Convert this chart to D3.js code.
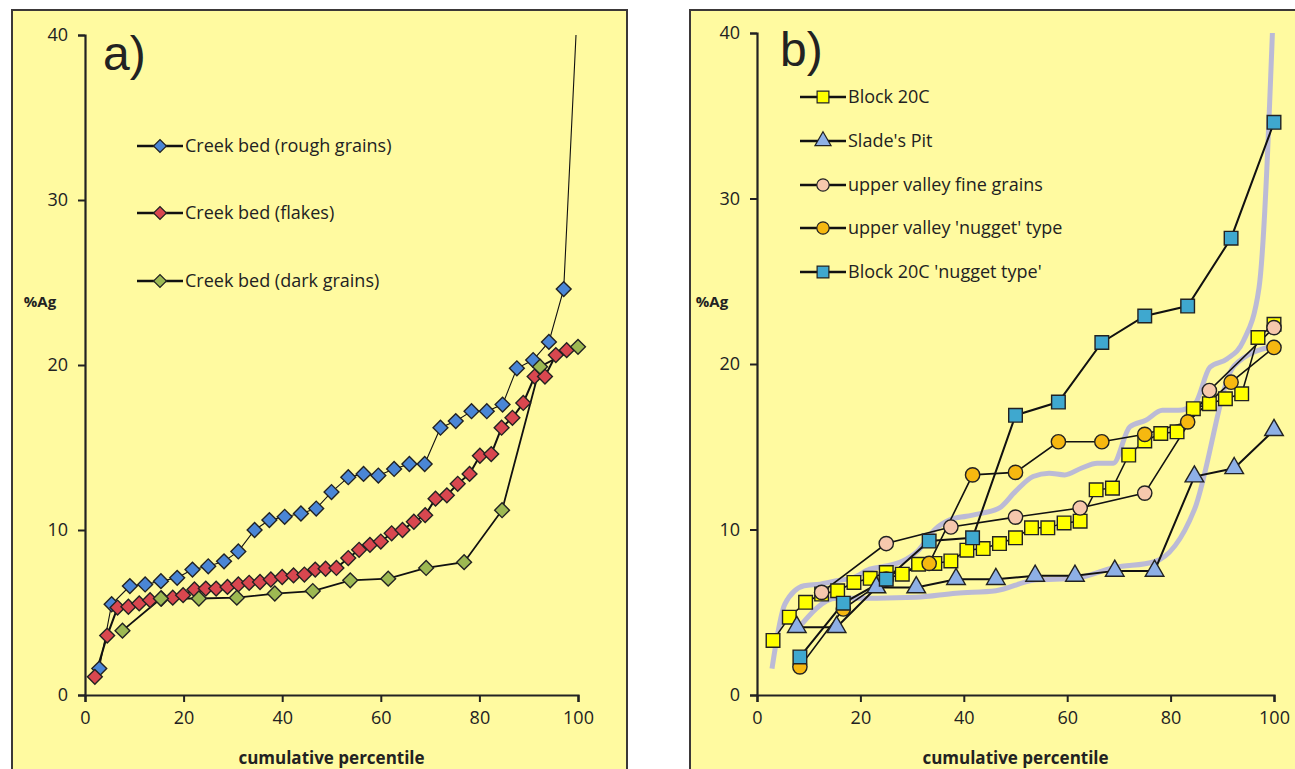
<!DOCTYPE html>
<html>
<head>
<meta charset="utf-8">
<script src="https://cdn.jsdelivr.net/npm/d3@7"></script>
<style>
  body { margin: 0; background: #fff; }
  text { font-family: "Open Sans", sans-serif; fill: #222; }
</style>
</head>
<body>
<div id="chart"></div>
<script>
// ---- data ----
// panel a)
var roughX = [2.9, 5.4, 9.1, 12.2, 15.4, 18.7, 21.8, 25.0, 28.2, 31.1, 34.4, 37.4, 40.5, 43.8, 46.9, 50.0, 53.4, 56.5, 59.5, 62.7, 65.8, 68.9, 72.1, 75.2, 78.4, 81.5, 84.7, 87.6, 90.9, 94.1, 97.1, 100];
var roughY = [1.6, 5.5, 6.6, 6.7, 6.9, 7.1, 7.6, 7.8, 8.1, 8.7, 10.0, 10.6, 10.8, 11.0, 11.3, 12.3, 13.2, 13.4, 13.3, 13.7, 14.0, 14.0, 16.2, 16.6, 17.2, 17.2, 17.6, 19.8, 20.3, 21.4, 24.6, 42.5];

var flakesX = [2.0, 4.5, 6.6, 8.8, 11.0, 13.2, 15.5, 17.8, 19.9, 22.2, 24.5, 26.6, 28.9, 31.1, 33.3, 35.5, 37.7, 40.0, 42.3, 44.5, 46.7, 48.8, 51.0, 53.4, 55.6, 57.8, 60.0, 62.2, 64.4, 66.7, 69.0, 71.1, 73.4, 75.6, 78.0, 80.1, 82.4, 84.5, 86.7, 88.9, 91.2, 93.3, 95.5, 97.7];
var flakesY = [1.1, 3.6, 5.3, 5.35, 5.55, 5.75, 5.85, 5.9, 6.05, 6.4, 6.45, 6.45, 6.55, 6.7, 6.8, 6.85, 7.0, 7.15, 7.25, 7.3, 7.6, 7.65, 7.7, 8.3, 8.8, 9.1, 9.3, 9.8, 10.0, 10.5, 10.9, 11.9, 12.1, 12.8, 13.4, 14.5, 14.6, 16.2, 16.8, 17.7, 19.3, 19.3, 20.6, 20.9];

var darkX = [7.6, 15.4, 23.1, 30.8, 38.5, 46.2, 53.8, 61.5, 69.2, 76.9, 84.6, 92.3, 100];
var darkY = [3.9, 5.85, 5.85, 5.9, 6.15, 6.3, 6.95, 7.05, 7.7, 8.05, 11.2, 19.9, 21.1];

// panel b)
var blockX = [3.1, 6.25, 9.4, 12.5, 15.6, 18.75, 21.9, 25.0, 28.1, 31.25, 34.4, 37.5, 40.6, 43.75, 46.9, 50.0, 53.1, 56.25, 59.4, 62.5, 65.6, 68.75, 71.9, 75.0, 78.1, 81.25, 84.4, 87.5, 90.6, 93.75, 96.9, 100];
var blockY = [3.3, 4.7, 5.6, 6.1, 6.3, 6.8, 7.05, 7.4, 7.3, 7.9, 7.95, 8.1, 8.75, 8.85, 9.15, 9.5, 10.1, 10.1, 10.4, 10.5, 12.4, 12.5, 14.5, 15.35, 15.8, 15.9, 17.3, 17.6, 17.9, 18.2, 21.6, 22.4];

var sladeX = [7.7, 15.4, 23.1, 30.8, 38.5, 46.2, 53.8, 61.5, 69.2, 76.9, 84.6, 92.3, 100];
var sladeY = [4.1, 4.1, 6.5, 6.5, 7.0, 7.0, 7.2, 7.2, 7.5, 7.5, 13.2, 13.7, 16.0];

var fineX = [12.5, 25.0, 37.5, 50.0, 62.5, 75.0, 87.5, 100];
var fineY = [6.2, 9.15, 10.15, 10.75, 11.3, 12.2, 18.4, 22.2];

var nuggetX = [8.3, 16.7, 25.0, 33.3, 41.7, 50.0, 58.3, 66.7, 75.0, 83.3, 91.7, 100];
var nuggetY = [1.7, 5.2, 7.0, 7.95, 13.3, 13.45, 15.3, 15.3, 15.75, 16.5, 18.9, 21.0];

var blockNugX = [8.3, 16.7, 25.0, 33.3, 41.7, 50.0, 58.3, 66.7, 75.0, 83.3, 91.7, 100];
var blockNugY = [2.3, 5.55, 7.0, 9.3, 9.5, 16.9, 17.7, 21.3, 22.9, 23.5, 27.6, 34.6];

var xTicks = [0, 20, 40, 60, 80, 100];
var yTicks = [0, 10, 20, 30, 40];

function pts(xs, ys) { return xs.map(function(d, i) { return [d, ys[i]]; }); }

var svg = d3.select("#chart").append("svg")
  .attr("width", 1295).attr("height", 769);

var yellow = "#fffaa0";

// panel frames
svg.append("rect").attr("x", 12).attr("y", 10).attr("width", 615).attr("height", 775)
  .attr("fill", yellow).attr("stroke", "#3b3838").attr("stroke-width", 2);
svg.append("rect").attr("x", 690).attr("y", 10).attr("width", 630).attr("height", 775)
  .attr("fill", yellow).attr("stroke", "#3b3838").attr("stroke-width", 2);

function drawPanel(cfg) {
  var x = d3.scaleLinear().domain([0, 100]).range(cfg.xr);
  var y = d3.scaleLinear().domain([0, 40]).range(cfg.yr);
  var g = svg.append("g");

  g.append("clipPath").attr("id", cfg.id)
    .append("rect").attr("x", cfg.xr[0] - 12).attr("y", cfg.yr[1])
    .attr("width", cfg.xr[1] - cfg.xr[0] + 30).attr("height", cfg.yr[0] - cfg.yr[1] + 12);

  // axes
  var ax = g.append("g").attr("transform", "translate(0," + cfg.yr[0] + ")")
    .call(d3.axisBottom(x).tickValues(xTicks).tickSize(7).tickPadding(9));
  var ay = g.append("g").attr("transform", "translate(" + cfg.xr[0] + ",0)")
    .call(d3.axisLeft(y).tickValues(yTicks).tickSize(7).tickPadding(10));
  [ax, ay].forEach(function(a) {
    a.select(".domain").attr("stroke", "#222").attr("stroke-width", 2.2);
    a.selectAll(".tick line").attr("stroke", "#222").attr("stroke-width", 2);
    a.selectAll(".tick text").style("font-size", "18px").attr("fill", "#222")
      .style("font-family", "'Open Sans', sans-serif");
  });

  g.append("text").attr("x", (cfg.xr[0] + cfg.xr[1]) / 2).attr("y", 764)
    .attr("text-anchor", "middle").style("font-size", "17px").style("font-weight", "bold")
    .text("cumulative percentile");
  g.append("text").attr("x", cfg.xr[0] - 45).attr("y", 307)
    .attr("text-anchor", "middle").style("font-size", "15px").style("font-weight", "bold")
    .text("%Ag");
  g.append("text").attr("x", cfg.titleX).attr("y", cfg.titleY)
    .style("font-family", "'Liberation Sans', Arial, sans-serif").style("font-size", "48px")
    .text(cfg.title);

  var plot = g.append("g").attr("clip-path", "url(#" + cfg.id + ")");

  (cfg.bands || []).forEach(function(b) {
    plot.append("path").datum(b)
      .attr("fill", "none").attr("stroke", "#b4b2dc").attr("stroke-width", 5)
      .attr("stroke-linejoin", "round").attr("opacity", 0.9)
      .attr("d", d3.line().curve(d3.curveMonotoneX)
        .x(function(d) { return x(d[0]); }).y(function(d) { return y(d[1]); }));
  });

  cfg.series.forEach(function(s) {
    plot.append("path").datum(s.data)
      .attr("fill", "none").attr("stroke", "#111").attr("stroke-width", s.lw)
      .attr("d", d3.line().x(function(d) { return x(d[0]); }).y(function(d) { return y(d[1]); }));
  });
  cfg.series.forEach(function(s) {
    plot.selectAll(null).data(s.data).enter().append("path")
      .attr("d", d3.symbol().type(s.sym).size(s.size))
      .attr("transform", function(d) {
        return "translate(" + x(d[0]) + "," + y(d[1]) + ")" + (s.rot ? " rotate(45)" : "");
      })
      .attr("fill", s.color).attr("stroke", "#222").attr("stroke-width", 1.4);
  });

  // legend
  cfg.series.forEach(function(s, i) {
    var ly = cfg.legY[i];
    var lg = g.append("g").attr("transform", "translate(" + cfg.legX + "," + ly + ")");
    lg.append("line").attr("x1", 0).attr("x2", 46).attr("stroke", "#111").attr("stroke-width", 2.4);
    lg.append("path").attr("d", d3.symbol().type(s.sym).size(s.size * 0.75))
      .attr("transform", "translate(23,0)" + (s.rot ? " rotate(45)" : ""))
      .attr("fill", s.color).attr("stroke", "#222").attr("stroke-width", 1.2);
    lg.append("text").attr("x", 48).attr("y", 0).attr("dy", "0.35em")
      .style("font-size", "18px").text(s.name);
  });
}

drawPanel({
  id: "clipA", xr: [85, 578], yr: [695, 35], title: "a)", titleX: 103, titleY: 70,
  legX: 137, legY: [146, 213, 281],
  series: [
    { name: "Creek bed (rough grains)", data: pts(roughX, roughY), color: "#4a86d6", sym: d3.symbolSquare, size: 110, rot: true, lw: 1.1 },
    { name: "Creek bed (flakes)", data: pts(flakesX, flakesY), color: "#d9474f", sym: d3.symbolSquare, size: 110, rot: true, lw: 2 },
    { name: "Creek bed (dark grains)", data: pts(darkX, darkY), color: "#9db952", sym: d3.symbolSquare, size: 110, rot: true, lw: 1.8 }
  ]
});

drawPanel({
  id: "clipB", xr: [757, 1274], yr: [695, 33], title: "b)", titleX: 780, titleY: 66,
  legX: 800, legY: [97, 141, 185, 228, 272],
  bands: [pts(roughX, roughY), pts(darkX, darkY)],
  series: [
    { name: "Block 20C", data: pts(blockX, blockY), color: "#ffff00", sym: d3.symbolSquare, size: 185, lw: 1.5 },
    { name: "Slade's Pit", data: pts(sladeX, sladeY), color: "#8eb0e6", sym: d3.symbolTriangle, size: 150, lw: 2 },
    { name: "upper valley fine grains", data: pts(fineX, fineY), color: "#f6c8ad", sym: d3.symbolCircle, size: 160, lw: 1.6 },
    { name: "upper valley 'nugget' type", data: pts(nuggetX, nuggetY), color: "#f6b810", sym: d3.symbolCircle, size: 160, lw: 1.6 },
    { name: "Block 20C 'nugget type'", data: pts(blockNugX, blockNugY), color: "#3fa8cf", sym: d3.symbolSquare, size: 185, lw: 2 }
  ]
});
</script>
</body>
</html>
